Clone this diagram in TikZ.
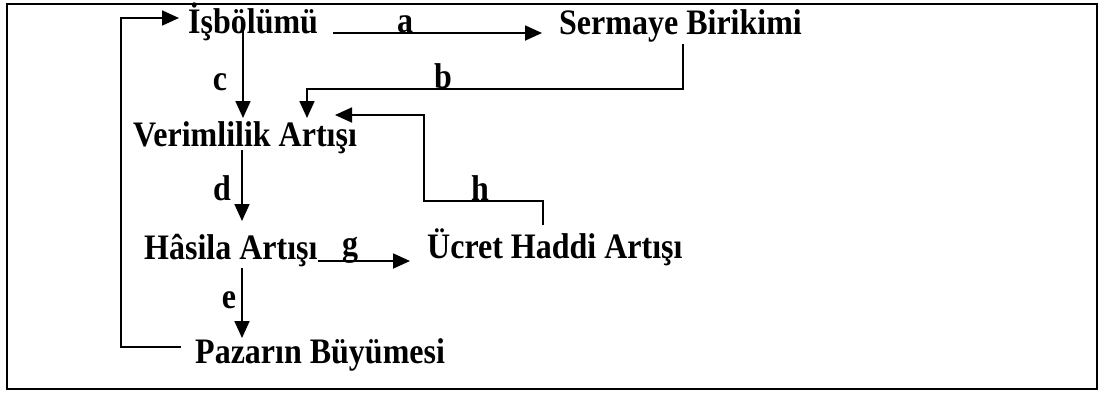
\documentclass[tikz,border=0pt]{standalone}
\usepackage{fontspec}
\usepackage{graphicx}
\setmainfont{Liberation Serif}
\usetikzlibrary{arrows.meta}
\newcommand{\tallt}[1]{\scalebox{1}[1.12]{#1}}
\tikzset{
  term/.style={anchor=base west, inner sep=0pt, font=\bfseries\fontsize{32}{36}\selectfont},
  lbl/.style={anchor=base, inner sep=0pt, font=\bfseries\fontsize{32}{36}\selectfont},
  conn/.style={line width=1.8pt},
  arr/.style={conn, -{Triangle[length=17pt,width=15pt]}},
}
\begin{document}
\begin{tikzpicture}[x=1pt,y=-1pt]
\useasboundingbox (0,0) rectangle (1103,392);
\draw[line width=2pt] (7,4) rectangle (1097,389);
% terms
\node[term] (isb) at (188,33) {\tallt{İşbölümü}};
\node[term] (ser) at (559,34) {\tallt{Sermaye Birikimi}};
\node[term] (ver) at (133,146) {\tallt{Verimlilik Artışı}};
\node[term] (has) at (144,259) {\tallt{Hâsila Artışı}};
\node[term] (ucr) at (427,258) {\tallt{Ücret Haddi Artışı}};
\node[term] (paz) at (195,363) {\tallt{Pazarın Büyümesi}};
% coordinates
\coordinate (a1) at (333,33);  \coordinate (a2) at (542,33);
\coordinate (c1) at (243,28);  \coordinate (c2) at (243,118);
\coordinate (b1) at (683,44);  \coordinate (b2) at (683,89);
\coordinate (b3) at (307,89);  \coordinate (b4) at (307,118);
\coordinate (h1) at (543,225); \coordinate (h2) at (543,201);
\coordinate (h3) at (424,201); \coordinate (h4) at (424,115);
\coordinate (h5) at (335,115);
\coordinate (d1) at (242,150); \coordinate (d2) at (242,221);
\coordinate (g1) at (318,261); \coordinate (g2) at (410,261);
\coordinate (e1) at (242,268); \coordinate (e2) at (242,338);
\coordinate (f1) at (181,347); \coordinate (f2) at (121,347);
\coordinate (f3) at (121,18);  \coordinate (f4) at (179,18);
% connectors
\draw[arr] (a1) -- (a2);
\draw[arr] (c1) -- (c2);
\draw[arr] (b1) -- (b2) -- (b3) -- (b4);
\draw[arr] (h1) -- (h2) -- (h3) -- (h4) -- (h5);
\draw[arr] (d1) -- (d2);
\draw[arr] (g1) -- (g2);
\draw[arr] (e1) -- (e2);
\draw[arr] (f1) -- (f2) -- (f3) -- (f4);
% labels
\node[lbl] (la) at (405,32) {\tallt{a}};
\node[lbl] (lb) at (443,88) {\tallt{b}};
\node[lbl] (lc) at (220,90) {\tallt{c}};
\node[lbl] (ld) at (222,200) {\tallt{d}};
\node[lbl] (le) at (229,308) {\tallt{e}};
\node[lbl] (lg) at (350,255) {\tallt{g}};
\node[lbl] (lh) at (480,200) {\tallt{h}};
\end{tikzpicture}
\end{document}
